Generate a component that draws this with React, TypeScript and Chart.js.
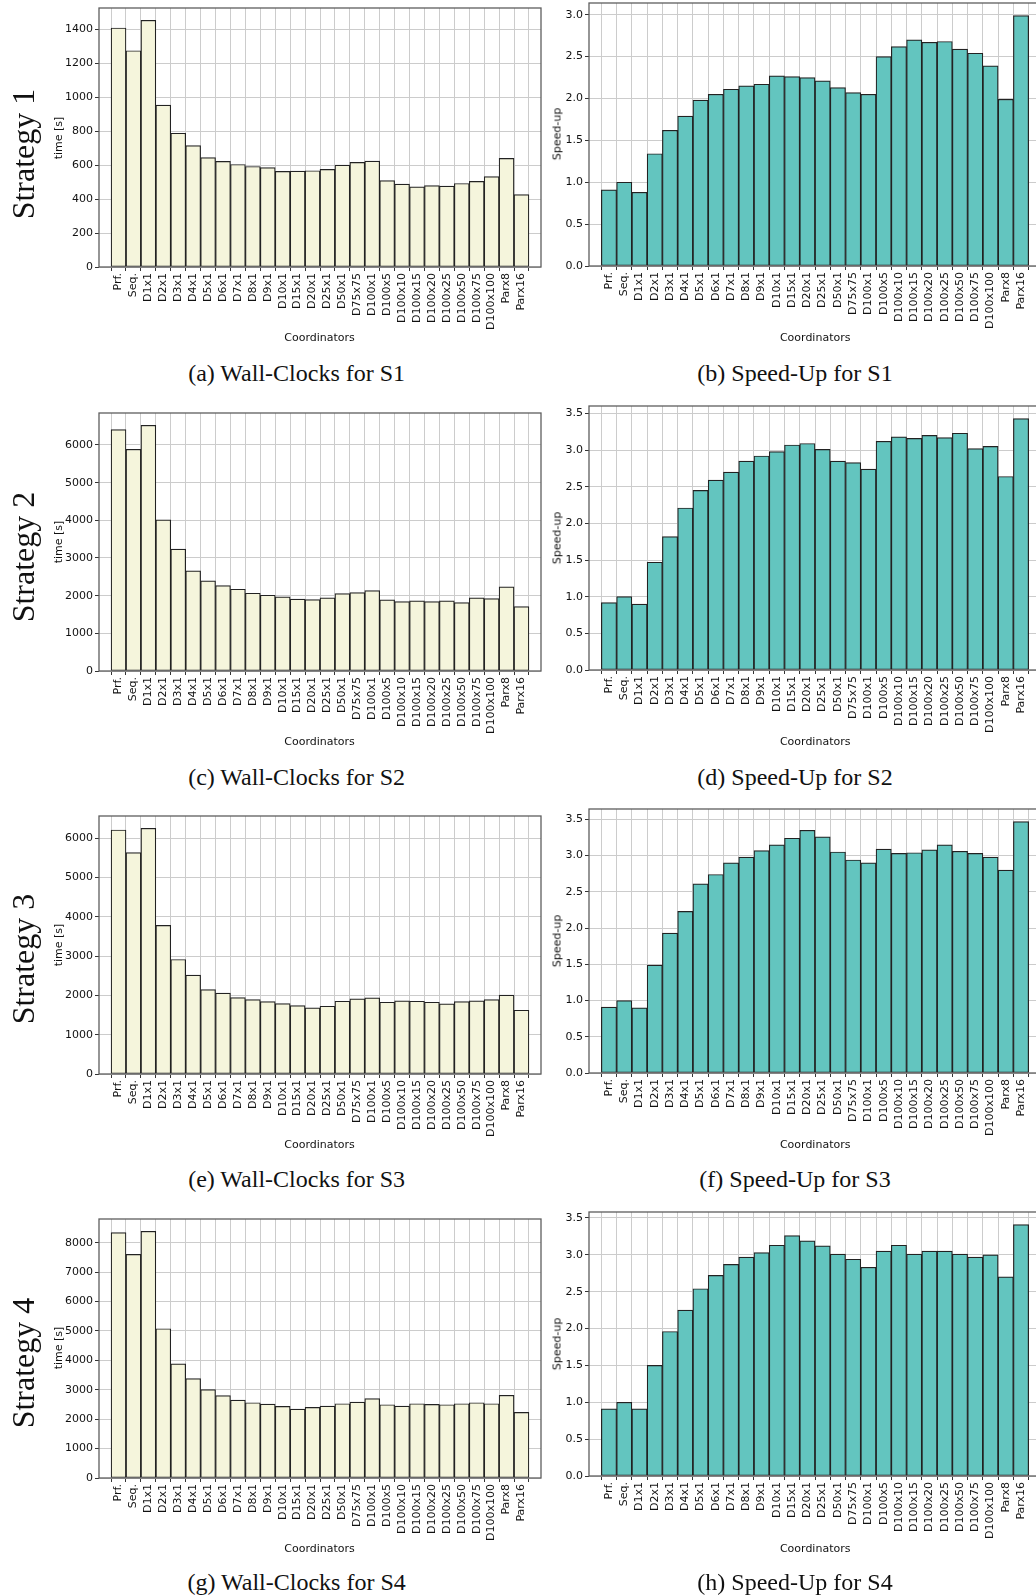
import React, { useEffect, useRef } from "react";
import { Chart, registerables } from "chart.js";

Chart.register(...registerables);

// ---------------- DATA ----------------
const coordinators = [
  "Prf.", "Seq.", "D1x1", "D2x1", "D3x1", "D4x1", "D5x1", "D6x1", "D7x1", "D8x1", "D9x1",
  "D10x1", "D15x1", "D20x1", "D25x1", "D50x1", "D75x75", "D100x1", "D100x5", "D100x10",
  "D100x15", "D100x20", "D100x25", "D100x50", "D100x75", "D100x100", "Parx8", "Parx16",
];

const wallS1 = [1408, 1274, 1453, 954, 788, 715, 644, 622, 604, 592, 586, 563, 565, 567, 575, 600, 616, 624, 509, 488, 472, 480, 476, 492, 504, 533, 640, 427];
const speedS1 = [0.91, 1.0, 0.88, 1.34, 1.62, 1.79, 1.98, 2.05, 2.11, 2.15, 2.17, 2.27, 2.26, 2.25, 2.21, 2.13, 2.07, 2.05, 2.5, 2.62, 2.7, 2.67, 2.68, 2.59, 2.54, 2.39, 1.99, 2.99];

const wallS2 = [6408, 5885, 6523, 4015, 3235, 2659, 2393, 2269, 2171, 2065, 2012, 1968, 1906, 1897, 1941, 2056, 2083, 2136, 1888, 1843, 1861, 1843, 1861, 1817, 1941, 1923, 2233, 1711];
const speedS2 = [0.92, 1.0, 0.9, 1.47, 1.82, 2.21, 2.45, 2.59, 2.7, 2.85, 2.92, 2.98, 3.07, 3.09, 3.01, 2.85, 2.83, 2.74, 3.12, 3.18, 3.16, 3.2, 3.17, 3.23, 3.02, 3.05, 2.64, 3.43];

const wallS3 = [6212, 5634, 6255, 3782, 2915, 2516, 2150, 2057, 1946, 1895, 1844, 1793, 1742, 1683, 1725, 1853, 1912, 1938, 1827, 1861, 1853, 1827, 1785, 1844, 1861, 1895, 2006, 1623];
const speedS3 = [0.91, 1.0, 0.9, 1.49, 1.93, 2.23, 2.61, 2.74, 2.9, 2.98, 3.07, 3.15, 3.24, 3.35, 3.26, 3.05, 2.94, 2.9, 3.09, 3.03, 3.04, 3.08, 3.15, 3.06, 3.03, 2.98, 2.8, 3.47];

const wallS4 = [8341, 7602, 8387, 5075, 3880, 3380, 3004, 2799, 2651, 2560, 2515, 2435, 2344, 2401, 2447, 2526, 2583, 2697, 2492, 2447, 2526, 2504, 2492, 2526, 2560, 2526, 2811, 2230];
const speedS4 = [0.91, 1.0, 0.91, 1.5, 1.96, 2.25, 2.54, 2.72, 2.87, 2.97, 3.03, 3.13, 3.26, 3.19, 3.12, 3.01, 2.94, 2.83, 3.05, 3.13, 3.01, 3.05, 3.05, 3.01, 2.97, 3.0, 2.7, 3.41];

const wallSteps = [200, 1000, 1000, 1000];
const speedStep = 0.5;

const strategyLabels = ["Strategy 1", "Strategy 2", "Strategy 3", "Strategy 4"];
const wallCaptions = ["(a) Wall-Clocks for S1", "(c) Wall-Clocks for S2", "(e) Wall-Clocks for S3", "(g) Wall-Clocks for S4"];
const speedCaptions = ["(b) Speed-Up for S1", "(d) Speed-Up for S2", "(f) Speed-Up for S3", "(h) Speed-Up for S4"];

const wallSeries = [wallS1, wallS2, wallS3, wallS4];
const speedSeries = [speedS1, speedS2, speedS3, speedS4];

// ---------------- STYLE / LAYOUT ----------------
const X_MIN = -0.78;
const X_MAX = 27.78;
const WALL_COLOR = "#f5f5dc";
const SPEED_COLOR = "#63c5bf";
const EDGE_COLOR = "#222222";
const GRID_COLOR = "#cccccc";
const FRAME_COLOR = "#5e5e5e";
const TEXT_COLOR = "#111111";
const SANS = "'DejaVu Sans', sans-serif";
const SERIF = "'Liberation Serif', 'DejaVu Serif', serif";

const LEFT_L = 98.7;
const LEFT_R = 540.5;
const RIGHT_L = 589;
const RIGHT_R = 1041.4;

const rows = [
  { lT: 8, lB: 267, rT: 3, rB: 265.7, sY: 154, cY: 337, capY: 372.5 },
  { lT: 413, lB: 670.7, rT: 406, rB: 669.5, sY: 557, cY: 741, capY: 776.5 },
  { lT: 816, lB: 1074, rT: 809, rB: 1072.7, sY: 959, cY: 1144, capY: 1178.5 },
  { lT: 1219, lB: 1477.7, rT: 1212, rB: 1475.5, sY: 1363, cY: 1548, capY: 1581.5 },
];

const framePlugin = {
  id: "frame",
  afterDatasetsDraw(chart: any) {
    const { ctx, chartArea } = chart;
    ctx.save();
    ctx.strokeStyle = FRAME_COLOR;
    ctx.lineWidth = 1.3;
    ctx.strokeRect(chartArea.left, chartArea.top, chartArea.right - chartArea.left, chartArea.bottom - chartArea.top);
    ctx.restore();
  },
};

type BarProps = {
  values: number[];
  step: number;
  decimals: number;
  color: string;
  L: number;
  T: number;
  R: number;
  B: number;
};

const PADL = 70;
const PADT = 14;
const PADR = 14;
const PADB = 90;

function stepTicks(min: number, max: number, step: number) {
  const out: { value: number }[] = [];
  const start = Math.ceil(min / step - 1e-9);
  for (let k = start; k * step <= max + 1e-9; k++) out.push({ value: Math.round(k * step * 1000) / 1000 });
  return out;
}

function BarChart({ values, step, decimals, color, L, T, R, B }: BarProps) {
  const ref = useRef<HTMLCanvasElement | null>(null);
  const left = Math.round(L);
  const top = Math.round(T);
  const pw = Math.round(R) - left;
  const ph = Math.round(B) - top;
  const w = pw + PADL + PADR;
  const h = ph + PADT + PADB;

  useEffect(() => {
    if (!ref.current) return;
    const yMax = Math.max(...values) * 1.05;
    const tickFont = { family: SANS, size: 11 };
    const chart = new Chart(ref.current, {
      type: "bar",
      data: {
        datasets: [
          {
            data: values.map((v, i) => ({ x: i, y: v })),
            backgroundColor: color,
            borderColor: EDGE_COLOR,
            borderWidth: 1.2,
            borderSkipped: false,
            barPercentage: 1,
            categoryPercentage: 1,
          } as any,
        ],
      },
      options: {
        responsive: false,
        animation: false,
        devicePixelRatio: 1,
        layout: { padding: { left: 0, top: PADT, right: PADR, bottom: 0 } },
        plugins: { legend: { display: false }, tooltip: { enabled: false } },
        scales: {
          x: {
            type: "linear",
            min: X_MIN,
            max: X_MAX,
            afterBuildTicks: (s: any) => {
              s.ticks = stepTicks(X_MIN, X_MAX, 1);
            },
            afterFit: (s: any) => {
              s.height = PADB;
            },
            border: { display: false },
            grid: { color: GRID_COLOR, lineWidth: 1, tickColor: "#333", tickLength: 4 },
            ticks: {
              autoSkip: false,
              minRotation: 90,
              maxRotation: 90,
              padding: 2,
              color: TEXT_COLOR,
              font: tickFont,
              callback: (v: any) => coordinators[Math.round(Number(v))] ?? "",
            } as any,
          },
          y: {
            min: 0,
            max: yMax,
            afterBuildTicks: (s: any) => {
              s.ticks = stepTicks(0, yMax, step);
            },
            afterFit: (s: any) => {
              s.width = PADL;
            },
            border: { display: false },
            grid: { color: GRID_COLOR, lineWidth: 1, tickColor: "#333", tickLength: 4 },
            ticks: {
              autoSkip: false,
              padding: 2,
              color: TEXT_COLOR,
              font: tickFont,
              callback: (v: any) => Number(v).toFixed(decimals),
            } as any,
          },
        },
      },
      plugins: [framePlugin],
    });
    return () => chart.destroy();
  }, []);

  return (
    <canvas
      ref={ref}
      width={w}
      height={h}
      style={{ position: "absolute", left: left - PADL, top: top - PADT, width: w, height: h }}
    />
  );
}

function Label({ x, y, text, font, size, rotate = 0, color = "#111" }: any) {
  return (
    <div
      style={{
        position: "absolute",
        left: x,
        top: y,
        transform: `translate(-50%, -50%) rotate(${rotate}deg)`,
        fontFamily: font,
        fontSize: size,
        color,
        whiteSpace: "nowrap",
        lineHeight: 1,
      }}
    >
      {text}
    </div>
  );
}

export default function App() {
  return (
    <div
      style={{
        position: "absolute",
        left: 0,
        top: 0,
        width: 1036,
        height: 1595,
        overflow: "hidden",
        background: "#fff",
      }}
    >
      {rows.map((r, i) => (
        <React.Fragment key={i}>
          <BarChart values={wallSeries[i]} step={wallSteps[i]} decimals={0} color={WALL_COLOR} L={LEFT_L} T={r.lT} R={LEFT_R} B={r.lB} />
          <BarChart values={speedSeries[i]} step={speedStep} decimals={1} color={SPEED_COLOR} L={RIGHT_L} T={r.rT} R={RIGHT_R} B={r.rB} />
          <Label x={22.5} y={r.sY} text={strategyLabels[i]} font={SERIF} size={32} rotate={-90} />
          <Label x={58} y={(r.lT + r.lB) / 2} text="time [s]" font={SANS} size={11} rotate={-90} color={TEXT_COLOR} />
          <Label x={556.7} y={(r.rT + r.rB) / 2} text="Speed-up" font={SANS} size={11} rotate={-90} color={TEXT_COLOR} />
          <Label x={(LEFT_L + LEFT_R) / 2} y={r.cY} text="Coordinators" font={SANS} size={11} color={TEXT_COLOR} />
          <Label x={(RIGHT_L + RIGHT_R) / 2} y={r.cY} text="Coordinators" font={SANS} size={11} color={TEXT_COLOR} />
          <Label x={296.6} y={r.capY} text={wallCaptions[i]} font={SERIF} size={24} />
          <Label x={795} y={r.capY} text={speedCaptions[i]} font={SERIF} size={24} />
        </React.Fragment>
      ))}
    </div>
  );
}
